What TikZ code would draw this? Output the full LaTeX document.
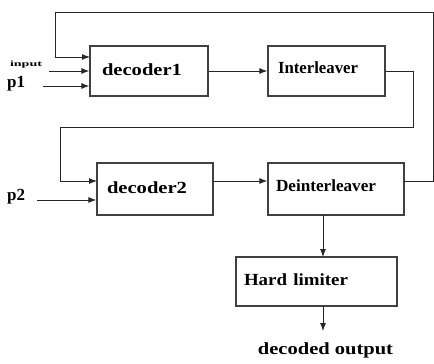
\documentclass[tikz,border=0pt]{standalone}
\usepackage{fontspec}
\setmainfont{Liberation Serif}
\usetikzlibrary{arrows.meta}
\newcommand{\fitw}[2]{\resizebox{#1}{\height}{#2}}
\begin{document}
\begin{tikzpicture}[x=1pt,y=-1pt,
  blk/.style={draw=black!75,line width=1.3pt,rectangle,inner ysep=0pt,font=\bfseries\fontsize{17}{19}\selectfont,align=left},
  wire/.style={draw=black!85,line width=0.9pt},
  arr/.style={wire,-{Latex[length=8pt,width=6pt]}},
  lab/.style={inner sep=0pt,font=\bfseries\fontsize{17}{19}\selectfont}]
\useasboundingbox (0,0) rectangle (434,364);
% blocks
\node[blk,minimum width=118pt,minimum height=50pt,inner xsep=12pt,text width=94pt] (dec1) at (149,71) {\raisebox{3pt}{\fitw{80pt}{decoder1}}};
\node[blk,minimum width=117pt,minimum height=50pt,inner xsep=10pt,text width=97pt] (inter) at (326.5,71) {\raisebox{6pt}{\fitw{80pt}{Interleaver}}};
\node[blk,minimum width=116pt,minimum height=52pt,inner xsep=10pt,text width=96pt] (dec2) at (155,189) {\raisebox{2pt}{\fitw{80pt}{decoder2}}};
\node[blk,minimum width=136pt,minimum height=52pt,inner xsep=8pt,text width=120pt] (deint) at (336,189) {\raisebox{7pt}{\fitw{100pt}{Deinterleaver}}};
\node[blk,minimum width=161pt,minimum height=49pt,inner xsep=8pt,text width=145pt] (hl) at (316.5,281.5) {\raisebox{4pt}{\fitw{104pt}{Hard limiter}}};
% labels
\node[inner sep=0pt,font=\bfseries\fontsize{8}{9}\selectfont] (input) at (26,65) {\fitw{32pt}{input}};
\node[lab,anchor=west] (p1) at (7,84) {p1};
\node[lab,anchor=west] (p2) at (7,197) {p2};
\node[lab] (out) at (325.5,350) {\fitw{135pt}{decoded output}};
% coordinates
\coordinate (inA) at (49,71);
\coordinate (p1A) at (43,86);
\coordinate (p2A) at (37,200);
\coordinate (fbR) at (433,12);
\coordinate (fbL) at (55,12);
\coordinate (fbIn) at (90,57);
\coordinate (deR) at (404,181);
\coordinate (ilR) at (413,127);
\coordinate (ilL) at (60,127);
\coordinate (d2In) at (97,181);
\coordinate (hlIn) at (323,257);
\coordinate (deOut) at (323,215);
\coordinate (hlOut) at (323,306);
\coordinate (outTop) at (323,331);
% connectors
\draw[arr] (inA) -- (inA -| dec1.west);
\draw[arr] (p1A) -- (p1A -| dec1.west);
\draw[arr] (p2A) -- (p2A -| dec2.west);
\draw[arr] (dec1.east) -- (inter.west);
\draw[arr] (inter.east) -| (ilR) -- (ilL) |- (d2In);
\draw[arr] (d2In -| dec2.east) -- (d2In -| deint.west);
\draw[arr] (deR) -| (fbR) -- (fbL) |- (fbIn);
\draw[arr] (deOut) -- (hlIn);
\draw[arr] (hlOut) -- (outTop);
\end{tikzpicture}
\end{document}
